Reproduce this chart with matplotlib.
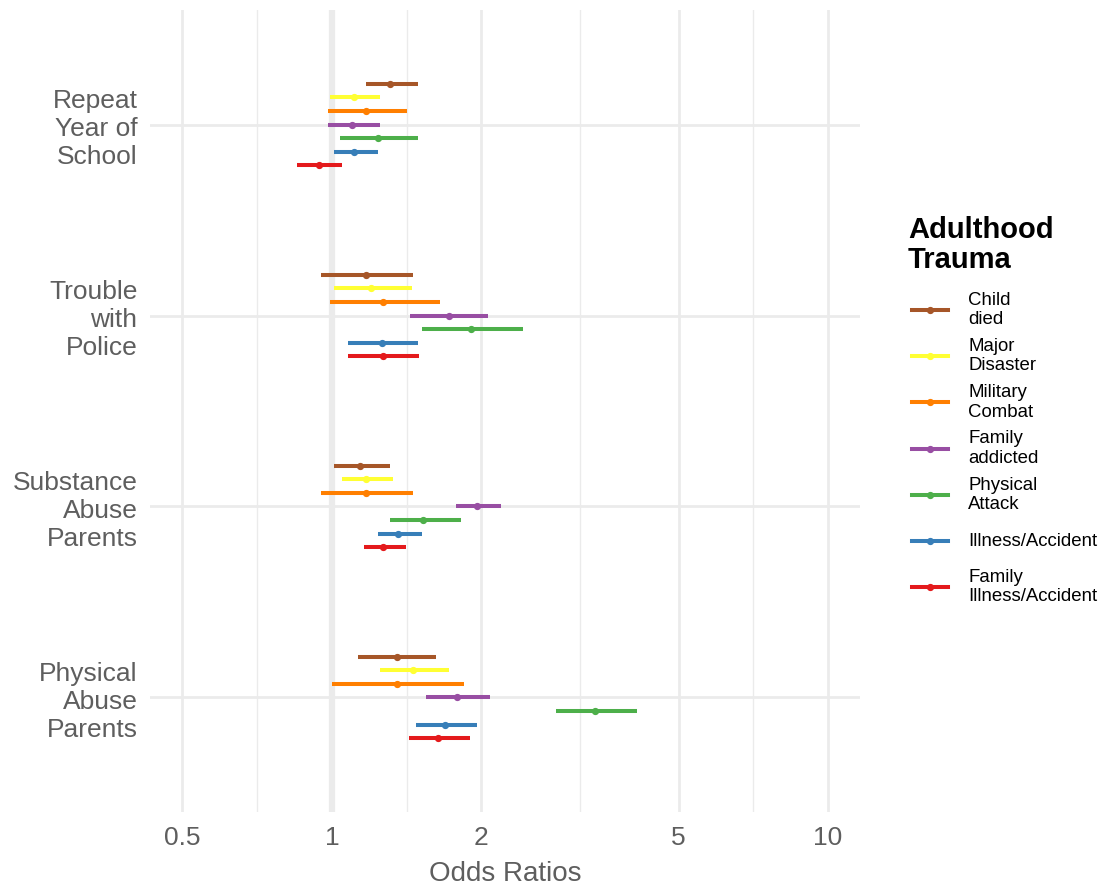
import matplotlib
matplotlib.use("Agg")
import matplotlib.pyplot as plt
import numpy as np
from matplotlib.ticker import FixedLocator, NullFormatter
from matplotlib.lines import Line2D

plt.rcParams['font.family'] = ['Liberation Sans', 'DejaVu Sans']

# outcomes, top to bottom
outcomes = ["Repeat\nYear of\nSchool", "Trouble\nwith\nPolice",
            "Substance\nAbuse\nParents", "Physical\nAbuse\nParents"]

# trauma types, order within each group (top to bottom)
traumas = ["Child\ndied", "Major\nDisaster", "Military\nCombat", "Family\naddicted",
           "Physical\nAttack", "Illness/Accident", "Family\nIllness/Accident"]
colors = ["#A65628", "#FFFF33", "#FF7F00", "#984EA3", "#4DAF4A", "#377EB8", "#E41A1C"]

# odds ratio estimates, one row per outcome (same order as outcomes)
odds = [
    [1.31, 1.11, 1.17, 1.10, 1.24, 1.11, 0.94],
    [1.17, 1.20, 1.27, 1.72, 1.91, 1.26, 1.27],
    [1.14, 1.17, 1.17, 1.96, 1.53, 1.36, 1.27],
    [1.35, 1.46, 1.35, 1.79, 3.39, 1.69, 1.64],
]
lower = [
    [1.17, 0.99, 0.98, 0.98, 1.04, 1.01, 0.85],
    [0.95, 1.01, 0.99, 1.44, 1.52, 1.08, 1.08],
    [1.01, 1.05, 0.95, 1.78, 1.31, 1.24, 1.16],
    [1.13, 1.25, 1.00, 1.55, 2.83, 1.48, 1.43],
]
upper = [
    [1.49, 1.25, 1.42, 1.25, 1.49, 1.24, 1.05],
    [1.46, 1.45, 1.65, 2.06, 2.43, 1.49, 1.50],
    [1.31, 1.33, 1.46, 2.19, 1.82, 1.52, 1.41],
    [1.62, 1.72, 1.85, 2.08, 4.12, 1.96, 1.90],
]

xticks = [0.5, 1, 2, 5, 10]
xticklabels = ["0.5", "1", "2", "5", "10"]
minor_ticks = [0.707, 1.414, 3.162, 7.071]

W, H = 1109, 888
fig = plt.figure(figsize=(W / 100, H / 100), dpi=100)
ax = fig.add_axes([150 / W, 1 - 812 / H, 710 / W, 802 / H])

grid_col = "#EBEBEB"
txt_col = "#5E5E5E"
n_out = len(outcomes)
n_tr = len(traumas)
dodge = 0.5
centers = np.arange(n_out)[::-1] + 1  # top outcome at highest y

ax.axvline(1, color=grid_col, lw=4.5, zorder=0.5)

for j in range(n_tr):
    ys = centers + dodge / 2 - (j + 0.5) * dodge / n_tr
    o = np.array([row[j] for row in odds])
    lo = np.array([row[j] for row in lower])
    hi = np.array([row[j] for row in upper])
    ax.hlines(ys, lo, hi, color=colors[j], lw=2.9, zorder=3)
    ax.plot(o, ys, "o", color=colors[j], ms=4.2, zorder=4)

ax.set_xscale("log")
ax.set_xlim(0.43, 11.6)
ax.set_ylim(0.4, n_out + 0.6)
ax.xaxis.set_major_locator(FixedLocator(xticks))
ax.set_xticklabels(xticklabels)
ax.xaxis.set_minor_locator(FixedLocator(minor_ticks))
ax.xaxis.set_minor_formatter(NullFormatter())
ax.set_yticks(centers)
ax.set_yticklabels(outcomes)

ax.grid(which="major", color=grid_col, lw=2.0)
ax.grid(which="minor", axis="x", color=grid_col, lw=1.0)
ax.set_axisbelow(True)
for s in ax.spines.values():
    s.set_visible(False)
ax.tick_params(which="both", length=0)
ax.tick_params(axis="y", labelsize=19, labelcolor=txt_col, pad=9)
ax.tick_params(axis="x", labelsize=19, labelcolor=txt_col, pad=10)
for t in ax.get_yticklabels():
    t.set_linespacing(1.2)
ax.set_xlabel("Odds Ratios", fontsize=20, color=txt_col, labelpad=8)

# legend drawn by hand so every key row has the same height
fig.text(908 / W, 1 - 216 / H, "Adulthood\nTrauma", fontsize=21, fontweight="bold",
         ha="left", va="top", linespacing=1.1)
row0, step = 310, 46.2
for j in range(n_tr):
    yk = 1 - (row0 + j * step) / H
    fig.add_artist(Line2D([912 / W, 948 / W], [yk, yk], color=colors[j], lw=2.9,
                          transform=fig.transFigure))
    fig.add_artist(Line2D([930 / W], [yk], color=colors[j], marker="o", ms=4.2,
                          transform=fig.transFigure))
    fig.text(968 / W, yk, traumas[j], fontsize=13.4, ha="left", va="center",
             linespacing=1.17)

plt.savefig("out.png", dpi=100)
